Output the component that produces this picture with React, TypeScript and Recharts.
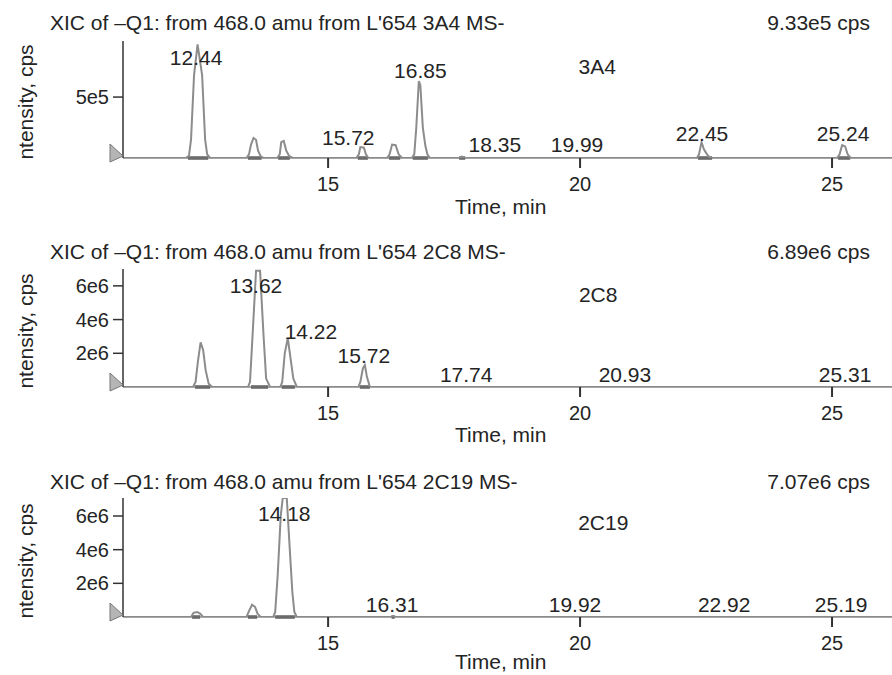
import React from 'react';
import { LineChart, Line, XAxis, YAxis, ReferenceLine, ReferenceDot } from 'recharts';

// time window of all three XICs (min)
const timeRange = [10.93, 26.19];
const timeTicks = [15, 20, 25];

// traces as [time (min), intensity (cps)]
const trace3A4: [number, number][] = [
  [10.93, 0],
  [12.18, 0], [12.24, 0.2e5], [12.28, 1.5e5], [12.34, 6.8e5], [12.41, 9.33e5], [12.5, 6.8e5], [12.56, 1.5e5], [12.6, 0.3e5], [12.66, 0],
  [13.38, 0], [13.43, 0.3e5], [13.47, 1.1e5], [13.52, 1.64e5], [13.57, 1.5e5], [13.61, 0.6e5], [13.66, 0.15e5], [13.72, 0],
  [13.99, 0], [14.04, 0.3e5], [14.07, 1.3e5], [14.12, 1.4e5], [14.17, 0.6e5], [14.23, 0.15e5], [14.3, 0],
  [15.56, 0], [15.61, 0.3e5], [15.64, 0.9e5], [15.71, 0.85e5], [15.75, 0.3e5], [15.8, 0],
  [16.17, 0], [16.22, 0.3e5], [16.27, 1.1e5], [16.34, 1.05e5], [16.4, 0.3e5], [16.47, 0],
  [16.66, 0], [16.71, 0.3e5], [16.75, 2.5e5], [16.8, 6.3e5], [16.83, 6.0e5], [16.88, 2.5e5], [16.93, 1.0e5], [16.97, 0.3e5], [17.02, 0],
  [17.6, 0], [17.65, 0.12e5], [17.72, 0],
  [22.32, 0], [22.36, 0.3e5], [22.41, 1.3e5], [22.46, 0.7e5], [22.52, 0.3e5], [22.58, 0],
  [25.1, 0], [25.15, 0.3e5], [25.2, 1.05e5], [25.26, 0.95e5], [25.31, 0.3e5], [25.37, 0],
  [26.19, 0],
];

const trace2C8: [number, number][] = [
  [10.93, 0],
  [12.32, 0], [12.37, 0.3e6], [12.42, 1.6e6], [12.47, 2.65e6], [12.52, 2.2e6], [12.57, 1.0e6], [12.63, 0.2e6], [12.7, 0],
  [13.41, 0], [13.45, 0.3e6], [13.5, 3.0e6], [13.57, 6.89e6], [13.65, 6.89e6], [13.72, 3.0e6], [13.77, 0.5e6], [13.85, 0],
  [14.05, 0], [14.09, 0.3e6], [14.14, 2.0e6], [14.2, 2.9e6], [14.25, 1.8e6], [14.31, 0.5e6], [14.38, 0],
  [15.6, 0], [15.64, 0.3e6], [15.69, 1.1e6], [15.73, 1.3e6], [15.77, 0.6e6], [15.83, 0],
  [26.19, 0],
];

const trace2C19: [number, number][] = [
  [10.93, 0],
  [12.28, 0], [12.33, 0.25e6], [12.4, 0.3e6], [12.46, 0.2e6], [12.52, 0],
  [13.38, 0], [13.43, 0.35e6], [13.49, 0.73e6], [13.55, 0.6e6], [13.6, 0.2e6], [13.66, 0],
  [13.91, 0], [13.95, 0.3e6], [14.0, 2.5e6], [14.06, 6.0e6], [14.1, 7.07e6], [14.18, 7.07e6], [14.24, 4.0e6], [14.29, 1.5e6], [14.33, 0.3e6], [14.38, 0],
  [16.24, 0], [16.29, 0.06e6], [16.34, 0],
  [26.19, 0],
];

// integrated peak ranges (start, end) in min
const bars3A4: [number, number][] = [
  [12.22, 12.62], [13.41, 13.68], [14.01, 14.24], [15.59, 15.79], [16.21, 16.43],
  [16.68, 16.98], [17.6, 17.72], [22.34, 22.62], [25.12, 25.36],
];
const bars2C8: [number, number][] = [[12.36, 12.66], [13.47, 13.81], [14.08, 14.34], [15.63, 15.83]];
const bars2C19: [number, number][] = [[12.3, 12.46], [13.41, 13.59], [13.95, 14.34], [16.26, 16.32]];

// peak annotations: text, anchored at (time, intensity)
const labels3A4: [string, number, number][] = [
  ['12.44', 12.38, 8.25e5], ['16.85', 16.83, 7.22e5], ['15.72', 15.4, 1.72e5], ['18.35', 18.31, 1.07e5],
  ['19.99', 19.94, 1.07e5], ['22.45', 22.42, 2.05e5], ['25.24', 25.22, 2.05e5], ['3A4', 20.34, 7.47e5],
];
const labels2C8: [string, number, number][] = [
  ['13.62', 13.57, 6.02e6], ['14.22', 14.66, 3.29e6], ['15.72', 15.71, 1.84e6], ['17.74', 17.74, 0.77e6],
  ['20.93', 20.89, 0.77e6], ['25.31', 25.26, 0.77e6], ['2C8', 20.36, 5.46e6],
];
const labels2C19: [string, number, number][] = [
  ['14.18', 14.13, 6.15e6], ['16.31', 16.27, 0.74e6], ['19.92', 19.9, 0.74e6], ['22.92', 22.86, 0.74e6],
  ['25.19', 25.18, 0.74e6], ['2C19', 20.46, 5.61e6],
];

const yTicks3A4 = [5e5];
const yTicks2C = [2e6, 4e6, 6e6];

const FONT = '"Liberation Sans", Arial, sans-serif';
const INK = '#242424';
const TRACE = '#8c8c8c';

const sci = (v: number) => {
  const e = Math.floor(Math.log10(v));
  return `${Math.round(v / 10 ** e)}e${e}`;
};

type PanelProps = {
  top: number;
  plotTop: number;
  timeY: number;
  title: string;
  maxText: string;
  trace: [number, number][];
  bars: [number, number][];
  labels: [string, number, number][];
  yMax: number;
  yTicks: number[];
};

function Panel({ top, plotTop, timeY, title, maxText, trace, bars, labels, yMax, yTicks }: PanelProps) {
  const data = trace.map(([t, i]) => ({ t, i }));
  return (
    <div style={{ position: 'absolute', left: 0, top, width: 892, height: 230 }}>
      <LineChart width={892} height={230} data={data} margin={{ top: plotTop, right: 0, bottom: 42, left: 63 }}>
        <XAxis
          type="number"
          dataKey="t"
          domain={timeRange}
          ticks={timeTicks}
          allowDataOverflow
          height={30}
          axisLine={{ stroke: '#8a8a8a', strokeWidth: 1.5 }}
          tickLine={{ stroke: '#333', strokeWidth: 2 }}
          tickSize={10}
          tickMargin={9}
          tick={{ fill: INK, fontSize: 20, fontFamily: FONT }}
        />
        <YAxis
          type="number"
          domain={[0, yMax]}
          ticks={yTicks}
          allowDataOverflow
          width={60}
          tickFormatter={sci}
          axisLine={{ stroke: '#333', strokeWidth: 1.5 }}
          tickLine={{ stroke: '#333', strokeWidth: 1.5 }}
          tickSize={10}
          tickMargin={4}
          tick={{ fill: INK, fontSize: 20, fontFamily: FONT }}
        />
        {labels.map(([text, t, y], k) => (
          <ReferenceDot
            key={`l${k}`}
            x={t}
            y={y}
            ifOverflow="visible"
            shape={(p: any) => (
              <text x={p.cx} y={p.cy} dy={7.5} textAnchor="middle" fontSize={21} fontFamily={FONT} fill={INK}>
                {text}
              </text>
            )}
          />
        ))}
        {bars.map(([a, b], k) => (
          <ReferenceLine key={k} segment={[{ x: a, y: 0 }, { x: b, y: 0 }]} stroke="#111" strokeWidth={3} />
        ))}
        <ReferenceDot
          x={timeRange[0]}
          y={0}
          ifOverflow="visible"
          shape={(p: any) => (
            <polygon
              points={`${p.cx - 13},${p.cy - 14} ${p.cx},${p.cy - 2} ${p.cx - 13},${p.cy + 4}`}
              fill="#b5b5b5"
              stroke="#777"
              strokeWidth={1}
            />
          )}
        />
        <Line type="linear" dataKey="i" stroke={TRACE} strokeWidth={2} dot={false} isAnimationActive={false} />
      </LineChart>
      <svg width={892} height={230} style={{ position: 'absolute', left: 0, top: 0, pointerEvents: 'none' }}>
        <text x={50} y={30} fontSize={21} fontFamily={FONT} fill={INK}>{title}</text>
        <text x={870} y={30} fontSize={21} fontFamily={FONT} fill={INK} textAnchor="end">{maxText}</text>
        <text x={455} y={timeY} fontSize={21} fontFamily={FONT} fill={INK}>Time, min</text>
        <text
          x={25}
          y={102}
          fontSize={21}
          fontFamily={FONT}
          fill={INK}
          textAnchor="middle"
          dy={7.5}
          transform="rotate(-90 25 102)"
        >
          ntensity, cps
        </text>
      </svg>
    </div>
  );
}

export default function App() {
  return (
    <div style={{ position: 'absolute', left: 0, top: 0, width: 892, height: 675, background: '#fff', overflow: 'hidden' }}>
      <Panel
        top={0}
        plotTop={41}
        timeY={214}
        title="XIC of –Q1: from 468.0 amu from L'654 3A4 MS-"
        maxText="9.33e5 cps"
        trace={trace3A4}
        bars={bars3A4}
        labels={labels3A4}
        yMax={9.6e5}
        yTicks={yTicks3A4}
      />
      <Panel
        top={229}
        plotTop={40}
        timeY={213}
        title="XIC of –Q1: from 468.0 amu from L'654 2C8 MS-"
        maxText="6.89e6 cps"
        trace={trace2C8}
        bars={bars2C8}
        labels={labels2C8}
        yMax={7.0e6}
        yTicks={yTicks2C}
      />
      <Panel
        top={459}
        plotTop={39}
        timeY={210}
        title="XIC of –Q1: from 468.0 amu from L'654 2C19 MS-"
        maxText="7.07e6 cps"
        trace={trace2C19}
        bars={bars2C19}
        labels={labels2C19}
        yMax={7.07e6}
        yTicks={yTicks2C}
      />
    </div>
  );
}
